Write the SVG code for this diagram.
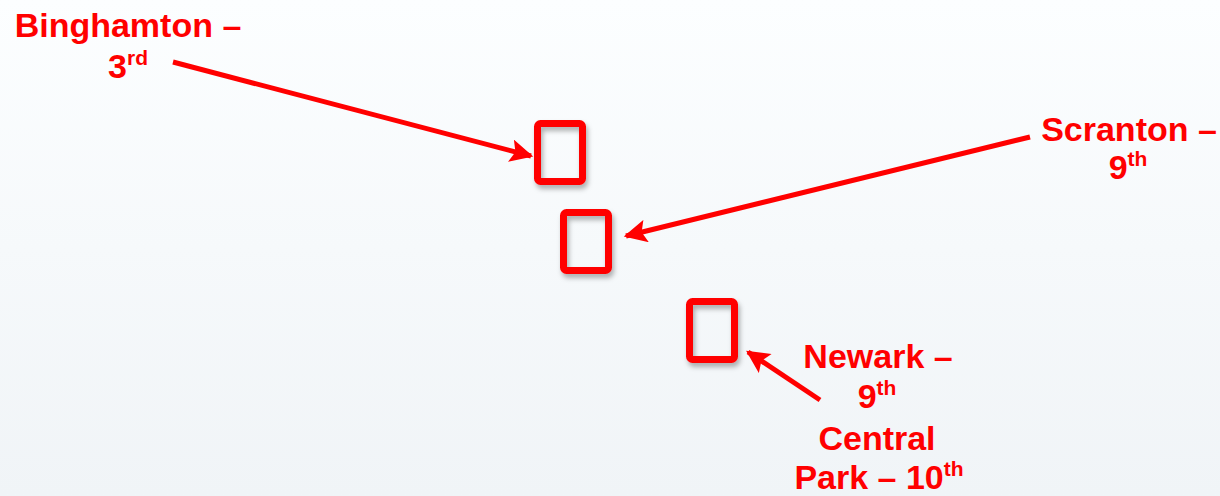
<svg xmlns="http://www.w3.org/2000/svg" width="1220" height="496" viewBox="0 0 1220 496">
<defs>
<linearGradient id="bg" x1="0" y1="0" x2="0" y2="1">
<stop offset="0" stop-color="#fcfeff"/>
<stop offset="1" stop-color="#f0f4f7"/>
</linearGradient>
<filter id="sh" x="-30%" y="-30%" width="160%" height="160%">
<feDropShadow dx="2" dy="4" stdDeviation="2.5" flood-color="#000" flood-opacity="0.3"/>
</filter>
<marker id="ah" viewBox="0 0 10 10" refX="9" refY="5" markerWidth="5" markerHeight="4.6" orient="auto" markerUnits="strokeWidth">
<path d="M0,0 L10,5 L0,10 L2,5 Z" fill="#ff0000"/>
</marker>
<style>
.box{fill:none;stroke:#ff0000;stroke-width:7;}
.lbl{font-family:"Liberation Sans",Arial,sans-serif;font-weight:bold;font-size:34px;fill:#ff0000;text-anchor:middle;}
.sup{font-size:21px;}
.con{stroke:#ff0000;stroke-width:5;fill:none;marker-end:url(#ah);}
</style>
</defs>
<rect x="0" y="0" width="1220" height="496" fill="url(#bg)"/>
<g id="box-binghamton"><rect class="box" x="537.5" y="123.5" width="45" height="58" rx="3" filter="url(#sh)"/></g>
<g id="box-scranton"><rect class="box" x="563.5" y="212.5" width="45" height="58" rx="3" filter="url(#sh)"/></g>
<g id="box-newark"><rect class="box" x="689.5" y="301.5" width="45" height="58" rx="3" filter="url(#sh)"/></g>
<g id="connectors">
<line class="con" x1="173" y1="62" x2="531" y2="156"/>
<line class="con" x1="1030" y1="137" x2="626" y2="236"/>
<line class="con" x1="820" y1="400" x2="748" y2="352"/>
</g>
<g id="label-binghamton">
<text class="lbl" x="128" y="37">Binghamton –</text>
<text class="lbl" x="128" y="78">3<tspan class="sup" dy="-13">rd</tspan></text>
</g>
<g id="label-scranton">
<text class="lbl" x="1129" y="141">Scranton –</text>
<text class="lbl" x="1128" y="179">9<tspan class="sup" dy="-13">th</tspan></text>
</g>
<g id="label-newark">
<text class="lbl" x="878" y="368">Newark –</text>
<text class="lbl" x="877" y="408">9<tspan class="sup" dy="-13">th</tspan></text>
<text class="lbl" x="877" y="450">Central</text>
<text class="lbl" x="879" y="489">Park – 10<tspan class="sup" dy="-13">th</tspan></text>
</g>
</svg>
